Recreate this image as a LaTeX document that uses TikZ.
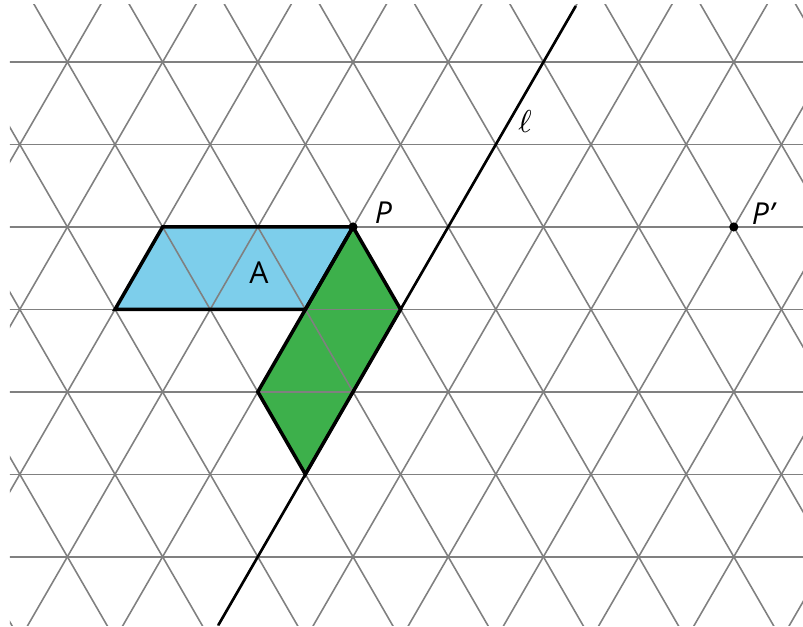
\documentclass[tikz,border=0pt]{standalone}
\usepackage{fontspec}
\setmainfont{Open Sans}
\definecolor{shadeA}{RGB}{125,206,235}
\definecolor{shadeB}{RGB}{61,176,75}
\begin{document}
\begin{tikzpicture}[x=0.952cm,y=0.952cm,
  gridline/.style={draw=gray,line width=0.45pt},
  outline/.style={line width=1pt},
  lbl/.style={font=\fontsize{8.6}{10}\selectfont,inner sep=0pt}]
\useasboundingbox (-3.708,-4.202) rectangle (4.727,2.384);
\coordinate (P) at (0,0);
\coordinate (Pp) at (4,0);
% shaded figures
\fill[shadeA] (-2,0)--(P)--(-0.5,-0.866)--(-2.5,-0.866)--cycle;
\fill[shadeB] (P)--(0.5,-0.866)--(-0.5,-2.598)--(-1,-1.732)--cycle;
% triangular grid
\begin{scope}
\clip (-3.603,-4.181) rectangle (4.727,2.332);
\foreach \j in {-4,...,2}
  \draw[gridline] (-4,\j*0.866)--(5,\j*0.866);
\foreach \k in {-7,...,8}{
  \draw[gridline] (\k,0) ++(240:6) -- ++(60:12);
  \draw[gridline] (\k,0) ++(300:6) -- ++(120:12);}
\end{scope}
\draw[outline] (-2,0)--(P)--(-0.5,-0.866)--(-2.5,-0.866)--cycle;
\draw[outline] (P)--(0.5,-0.866)--(-0.5,-2.598)--(-1,-1.732)--cycle;
% line l
\draw[line width=0.75pt] (1,0) ++(240:4.83) -- ++(60:7.51);
\fill (P) circle (1.3pt);
\fill (Pp) circle (1.3pt);
\node[lbl] (lP) at (0.32,0.152) {\itshape P};
\node[lbl] (lPp) at (4.307,0.137) {\itshape P’};
\node[lbl] (lA) at (-0.987,-0.483) {A};
\node[lbl] (ll) at (1.807,1.108) {\fontsize{9.4}{11}\selectfont$\ell$};
\end{tikzpicture}
\end{document}
